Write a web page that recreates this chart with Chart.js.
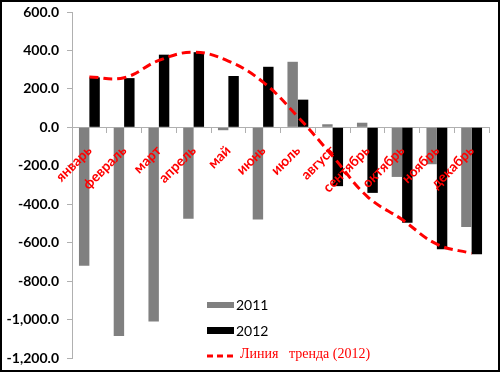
<!DOCTYPE html>
<html>
<head>
<meta charset="utf-8">
<script src="https://cdn.jsdelivr.net/npm/chart.js@4"></script>
<style>
  html, body { margin: 0; padding: 0; background: #fff; }
  #wrap { width: 500px; height: 372px; box-sizing: border-box; border: 2px solid #000; position: relative; }
  #chart { display: block; }
</style>
</head>
<body>
<div id="wrap"><canvas id="chart" width="496" height="368"></canvas></div>
<script>
var months = ['январь', 'февраль', 'март', 'апрель', 'май', 'июнь', 'июль', 'август', 'сентябрь', 'октябрь', 'ноябрь', 'декабрь'];
var values2011 = [-720, -1085, -1010, -476, -15, -480, 341, 16, 24, -258, -192, -518];
var values2012 = [260, 256, 378, 391, 267, 315, 144, -306, -341, -497, -634, -660];
var trend2012 = [262, 258, 348, 391, 345, 235, 55, -150, -360, -480, -608, -656];
var legendLabels = ['2011', '2012', 'Линия   тренда (2012)'];

// legend drawn inside the plot, lower middle
var legendPlugin = {
    id: 'innerLegend',
    afterDraw: function (chart) {
        var c = chart.ctx;
        c.save();
        c.textBaseline = 'middle';
        c.fillStyle = '#808080';
        c.fillRect(205, 300, 27, 6);
        c.fillStyle = '#000';
        c.fillRect(205, 325, 27, 7);
        c.font = '14px Lato';
        c.fillText(legendLabels[0], 234, 303);
        c.fillText(legendLabels[1], 234, 329);
        c.strokeStyle = '#ff0000';
        c.lineWidth = 3;
        c.setLineDash([6, 4]);
        c.beginPath();
        c.moveTo(205, 354);
        c.lineTo(233, 354);
        c.stroke();
        c.fillStyle = '#ff0000';
        c.font = '14px "Liberation Serif"';
        c.fillText(legendLabels[2], 238, 352);
        c.restore();
    }
};

var ctx = document.getElementById('chart');
var chart = new Chart(ctx, {
    type: 'bar',
    data: {
        labels: months,
        datasets: [{
            type: 'line',
            label: legendLabels[2],
            data: trend2012,
            borderColor: '#ff0000',
            borderWidth: 3,
            borderDash: [9, 5],
            pointRadius: 0,
            tension: 0.4,
            fill: false,
            order: 0
        }, {
            label: legendLabels[0],
            data: values2011,
            backgroundColor: '#808080',
            categoryPercentage: 0.6,
            barPercentage: 1,
            order: 1
        }, {
            label: legendLabels[1],
            data: values2012,
            backgroundColor: '#000000',
            categoryPercentage: 0.6,
            barPercentage: 1,
            order: 2
        }]
    },
    plugins: [legendPlugin],
    options: {
        responsive: false,
        animation: false,
        layout: { padding: { top: 10, right: 9, bottom: 12, left: 0 } },
        plugins: {
            legend: { display: false },
            tooltip: { enabled: false }
        },
        scales: {
            x: {
                position: { y: 0 },
                border: { color: '#b0b0b0', width: 1 },
                grid: { display: true, offset: true, drawOnChartArea: false, drawTicks: true, tickLength: 5, color: '#b0b0b0' },
                ticks: {
                    z: 1,
                    minRotation: 45,
                    maxRotation: 45,
                    padding: 10,
                    color: '#ff0000',
                    font: { family: 'Lato', size: 14, weight: 'bold' }
                },
                afterFit: function (scale) {
                    scale.paddingTop = 0;
                    scale.paddingBottom = 0;
                }
            },
            y: {
                min: -1200,
                max: 600,
                afterFit: function (scale) {
                    scale.width = 70;
                    scale.paddingTop = 0;
                    scale.paddingBottom = 0;
                },
                border: { color: '#b0b0b0', width: 1 },
                grid: { drawOnChartArea: false, drawTicks: true, tickLength: 5, color: '#b0b0b0' },
                ticks: {
                    stepSize: 200,
                    padding: 8,
                    color: '#000',
                    font: { family: 'Lato', size: 14, weight: 'bold' },
                    callback: function (v) {
                        return v.toLocaleString('en-US', { minimumFractionDigits: 1, maximumFractionDigits: 1 });
                    }
                }
            }
        }
    }
});
</script>
</body>
</html>
